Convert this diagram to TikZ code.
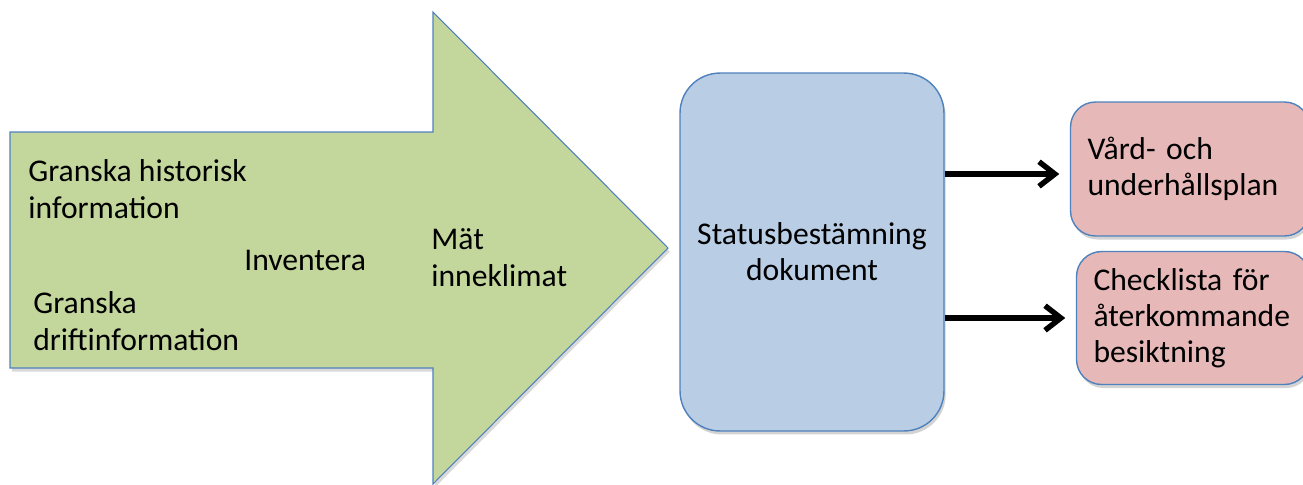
\documentclass[tikz,border=0pt]{standalone}
\usepackage{fontspec}
\setmainfont{Carlito}
\usetikzlibrary{arrows.meta,shadows}

\definecolor{flowgreen}{HTML}{C3D69B}
\definecolor{docblue}{HTML}{B9CDE5}
\definecolor{planpink}{HTML}{E6B9B8}
\definecolor{edgeblue}{HTML}{4F81BD}

\tikzset{
  steptext/.style={inner sep=0pt, anchor=base west, align=left,
    font=\fontsize{18}{20.5}\selectfont},
  docbox/.style={draw=edgeblue, fill=docblue, line width=0.8pt,
    rounded corners=0.8cm, minimum width=5.28cm, minimum height=7.16cm,
    align=center, font=\fontsize{18}{20.5}\selectfont,
    drop shadow={shadow xshift=1pt, shadow yshift=-2pt, opacity=0.35}},
  outbox/.style={draw=edgeblue, fill=planpink, line width=0.8pt,
    rounded corners=0.5cm, inner xsep=0.34cm, align=left,
    font=\fontsize{18}{20.5}\selectfont,
    drop shadow={shadow xshift=1pt, shadow yshift=-2pt, opacity=0.35}},
  feed/.style={line width=3.1pt,
    -{Straight Barb[length=9pt, width=14pt, line width=3.1pt]},
    shorten >=6pt}
}

\begin{document}
\begin{tikzpicture}[x=0.02cm, y=-0.02cm]
  \useasboundingbox (0,0) rectangle (1303,484);

  % big process arrow
  \draw[edgeblue, fill=flowgreen, line width=0.6pt,
    drop shadow={shadow xshift=1pt, shadow yshift=-2pt, opacity=0.3}]
    (10,132) -- (433,132) -- (433,12) -- (668,248) -- (433,484)
    -- (433,368) -- (10,368) -- cycle;

  \node[steptext] (hist) at (28,218) {Granska historisk\\information};
  \node[steptext] (drift) at (33,350) {Granska\\driftinformation};
  \node[steptext] (inv) at (244,270) {Inventera};
  \node[steptext] (klimat) at (431,286) {Mät\\inneklimat};

  % results
  \node[docbox] (status) at (812,252) {Statusbestämning\\dokument};
  \node[outbox, minimum width=4.78cm, minimum height=2.68cm, text width=4.1cm]
    (plan) at (1190,169) {Vård- och\\underhållsplan};
  \node[outbox, minimum width=4.66cm, minimum height=2.66cm, text width=3.98cm]
    (check) at (1193,318) {Checklista för\\återkommande\\besiktning};

  \draw[feed] (status.east |- 0,174) -- (plan.west |- 0,174);
  \draw[feed] (status.east |- check) -- (check.west);
\end{tikzpicture}
\end{document}
